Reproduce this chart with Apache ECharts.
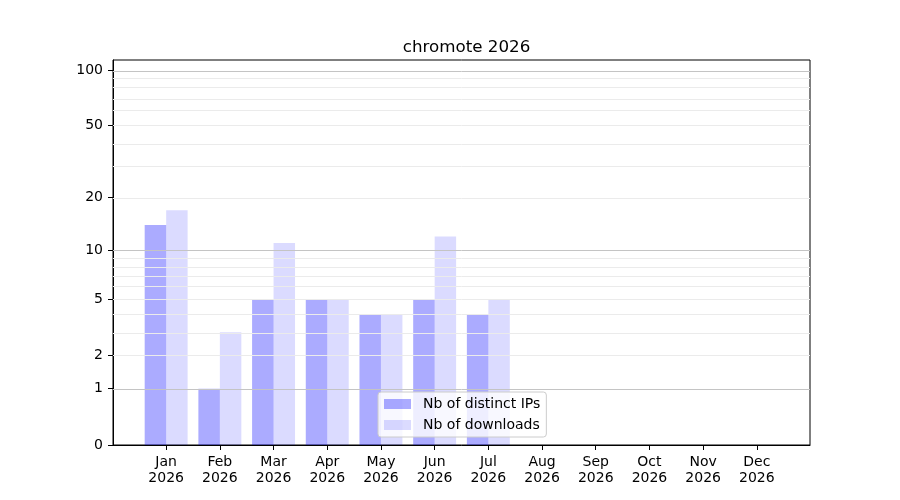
<!DOCTYPE html>
<html>
<head>
<meta charset="utf-8">
<script src="https://cdn.jsdelivr.net/npm/echarts@6/dist/echarts.min.js"></script>
<style>html,body{margin:0;padding:0;background:#fff;}#c{width:900px;height:500px;}</style>
</head>
<body>
<div id="c"></div>
<script>
var months = ['Jan','Feb','Mar','Apr','May','Jun','Jul','Aug','Sep','Oct','Nov','Dec'];
var yearLabel = '2026';
var distinctIPs = [14, 1, 5, 5, 4, 5, 4, 0, 0, 0, 0, 0];
var downloads   = [17, 3, 11, 5, 4, 12, 5, 0, 0, 0, 0, 0];
var yTickLabels = [0, 1, 2, 5, 10, 20, 50, 100];
var majorGrid = [1, 10, 100];
var minorGrid = [2, 3, 4, 5, 6, 7, 8, 9, 20, 30, 40, 50, 60, 70, 80, 90];
var yTop = 113.3;

function tf(v) { return Math.log10(1 + v); }
function inv(t) { return Math.round(Math.pow(10, t) - 1); }

var font = 'DejaVu Sans';
var gridLines = minorGrid.map(function (v) {
  return { yAxis: tf(v), lineStyle: { color: '#ebebeb', width: 1, type: 'solid' } };
}).concat(majorGrid.map(function (v) {
  return { yAxis: tf(v), lineStyle: { color: '#c4c4c4', width: 1, type: 'solid' } };
}));

var chart = echarts.init(document.getElementById('c'), null, { renderer: 'canvas' });
chart.setOption({
  animation: false,
  backgroundColor: '#ffffff',
  title: {
    text: 'chromote ' + yearLabel,
    left: 461.5, textAlign: 'center', top: 34,
    textStyle: { fontFamily: font, fontSize: 16.7, fontWeight: 'normal', color: '#000' }
  },
  grid: {
    left: 113, right: 90, top: 60, bottom: 55,
    show: true, borderColor: '#000', borderWidth: 1, containLabel: false
  },
  legend: {
    orient: 'vertical',
    left: 378, top: 392,
    icon: 'rect', itemWidth: 27, itemHeight: 10, itemGap: 7,
    padding: [5, 6, 5, 6],
    backgroundColor: 'rgba(255,255,255,0.8)',
    borderColor: '#cccccc', borderWidth: 1, borderRadius: 3,
    textStyle: { fontFamily: font, fontSize: 14, color: '#000', padding: [0, 0, 0, 7] },
    data: ['Nb of distinct IPs', 'Nb of downloads']
  },
  xAxis: {
    type: 'value', min: -0.99, max: 11.99,
    splitLine: { show: false },
    axisLine: { show: true, onZero: false, lineStyle: { color: '#000', width: 1 } },
    axisTick: { show: true, length: 5, lineStyle: { color: '#000' }, customValues: months.map(function (m, i) { return i; }) },
    axisLabel: {
      customValues: months.map(function (m, i) { return i; }),
      formatter: function (v) { return months[Math.round(v)] + '\n' + yearLabel; },
      fontFamily: font, fontSize: 14, color: '#000', lineHeight: 16, margin: 9
    }
  },
  yAxis: {
    type: 'value', min: 0, max: tf(yTop),
    splitLine: { show: false },
    axisLine: { show: true, onZero: false, lineStyle: { color: '#000', width: 1 } },
    axisTick: { show: true, length: 5, lineStyle: { color: '#000' }, customValues: yTickLabels.map(tf) },
    axisLabel: {
      customValues: yTickLabels.map(tf),
      formatter: function (v) { return String(inv(v)); },
      fontFamily: font, fontSize: 14, color: '#000', margin: 10
    }
  },
  series: [
    {
      name: 'Nb of distinct IPs', type: 'bar',
      barWidth: '40%', barGap: '0%',
      itemStyle: { color: 'rgba(0,0,255,0.33)' },
      data: distinctIPs.map(function (v, i) { return [i, tf(v)]; }),
      markLine: {
        silent: true, symbol: ['none', 'none'], label: { show: false },
        data: gridLines
      }
    },
    {
      name: 'Nb of downloads', type: 'bar',
      barWidth: '40%', barGap: '0%',
      itemStyle: { color: 'rgba(0,0,255,0.14)' },
      data: downloads.map(function (v, i) { return [i, tf(v)]; })
    }
  ]
});
</script>
</body>
</html>
